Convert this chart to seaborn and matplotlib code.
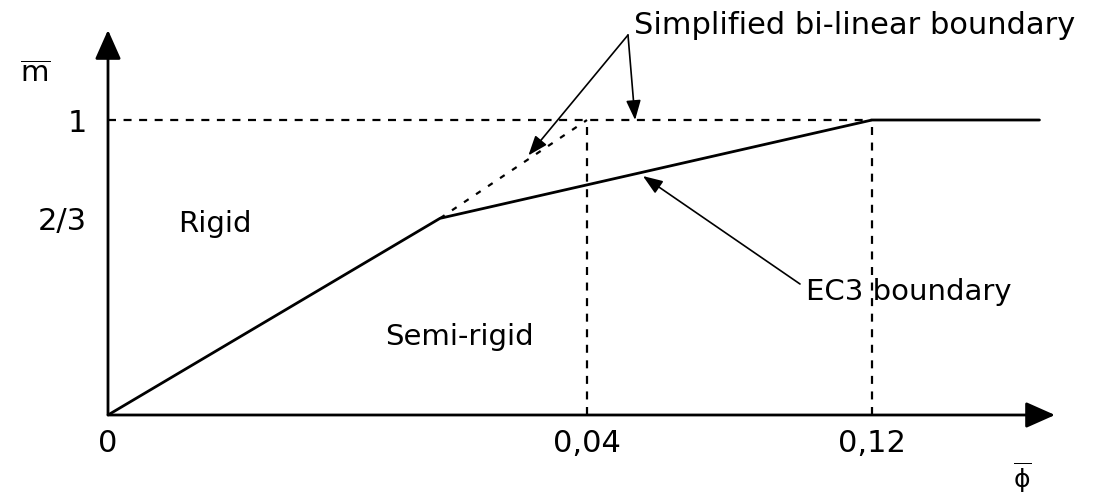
import numpy as np
import matplotlib
matplotlib.use("Agg")
import matplotlib.pyplot as plt
import seaborn as sns

# EC3 classification boundary (rigid / semi-rigid) in normalised units
ec3_phi = [0.0, 0.0267, 0.12, 0.167]
ec3_m = [0.0, 2 / 3, 1.0, 1.0]

# simplified bi-linear boundary, upper branch (lower part is shared with EC3)
bilin_phi = [0.0267, 0.04]
bilin_m = [2 / 3, 1.0]

x_ticks = [0.0, 0.04, 0.12]
x_tick_labels = ["0", "0,04", "0,12"]
y_ticks = [2 / 3, 1.0]
y_tick_labels = ["2/3", "1"]

# the phi axis of the sketch is not to scale -> piecewise linear scale
scale_phi = [-1.0, 0.0, 0.0267, 0.04, 0.12, 1.0]
scale_pos = [-12434.0, 0.0, 332.0, 479.0, 764.0, 3899.0]


def fwd(x):
    return np.interp(x, scale_phi, scale_pos)


def inv(p):
    return np.interp(p, scale_pos, scale_phi)


sns.set_style("white")
plt.rcParams["font.family"] = ["DejaVu Sans"]
plt.rcParams["text.color"] = "black"
plt.rcParams["xtick.color"] = "black"
plt.rcParams["ytick.color"] = "black"
FS = 21

fig = plt.figure(figsize=(10.93, 5), dpi=100)
ax = fig.add_axes([108 / 1093, 85 / 500, 947 / 1093, 385 / 500])
ax.set_xscale("function", functions=(fwd, inv))
ax.set_xlim(0, float(inv(947)))
ax.set_ylim(0, 385 / 295)
ax.patch.set_visible(False)
for s in ax.spines.values():
    s.set_visible(False)

dash = (0, (3.6, 3.4))

# guide lines
ax.hlines(y_ticks[1], 0, x_ticks[2], colors="black", lw=1.6, linestyles=[dash])
ax.vlines(x_ticks[1:], 0, y_ticks[1], colors="black", lw=1.6, linestyles=[dash])

# boundaries
sns.lineplot(x=ec3_phi, y=ec3_m, ax=ax, color="black", lw=2,
             sort=False, estimator=None)
sns.lineplot(x=bilin_phi, y=bilin_m, ax=ax, color="black", lw=1.6,
             linestyle=(0, (2.5, 4.0)), sort=False, estimator=None)

# axes with arrow heads
arrow = dict(arrowstyle="-|>,head_length=0.9,head_width=0.4", color="black",
             lw=2, mutation_scale=20, shrinkA=0, shrinkB=0)
ax.annotate("", xy=(1, 0), xytext=(0, 0), xycoords="axes fraction",
            arrowprops=arrow, annotation_clip=False)
ax.annotate("", xy=(0, 1), xytext=(0, 0), xycoords="axes fraction",
            arrowprops=arrow, annotation_clip=False)

ax.set_xticks(x_ticks, x_tick_labels, fontsize=FS + 1)
ax.set_yticks(y_ticks, y_tick_labels, fontsize=FS + 1)
ax.tick_params(axis="x", length=4, width=1.5, pad=6)
ax.tick_params(axis="y", length=10, width=1.5, pad=5)

# axis names
fig.text(35 / 1093, 1 - 74 / 500, r"$\overline{\mathrm{m}}$", fontsize=FS,
         ha="center", va="center")
fig.text(1022 / 1093, 1 - 478 / 500, "$\\overline{\\mathrm{ϕ}}$",
         fontsize=FS - 3, ha="center", va="center")

# region labels
fig.text(178 / 1093, 1 - 224 / 500, "Rigid", fontsize=FS, va="center")
fig.text(385 / 1093, 1 - 337 / 500, "Semi-rigid", fontsize=FS, va="center")
fig.text(806 / 1093, 1 - 292 / 500, "EC3 boundary", fontsize=FS, va="center")
fig.text(634 / 1093, 1 - 26 / 500, "Simplified bi-linear boundary",
         fontsize=FS + 1, va="center")

# pointer arrows
ptr = dict(arrowstyle="-|>,head_length=0.8,head_width=0.3", color="black",
           lw=1.2, mutation_scale=15, shrinkA=0, shrinkB=0)
ax.annotate("", xy=(0.0347, 0.88), xytext=(628, 500 - 35),
            textcoords="figure pixels", arrowprops=ptr, annotation_clip=False)
ax.annotate("", xy=(0.0535, 1.0), xytext=(628, 500 - 35),
            textcoords="figure pixels", arrowprops=ptr, annotation_clip=False)
ax.annotate("", xy=(0.0557, 0.81), xytext=(800, 500 - 284),
            textcoords="figure pixels", arrowprops=ptr, annotation_clip=False)

fig.savefig("out.png", dpi=100)
